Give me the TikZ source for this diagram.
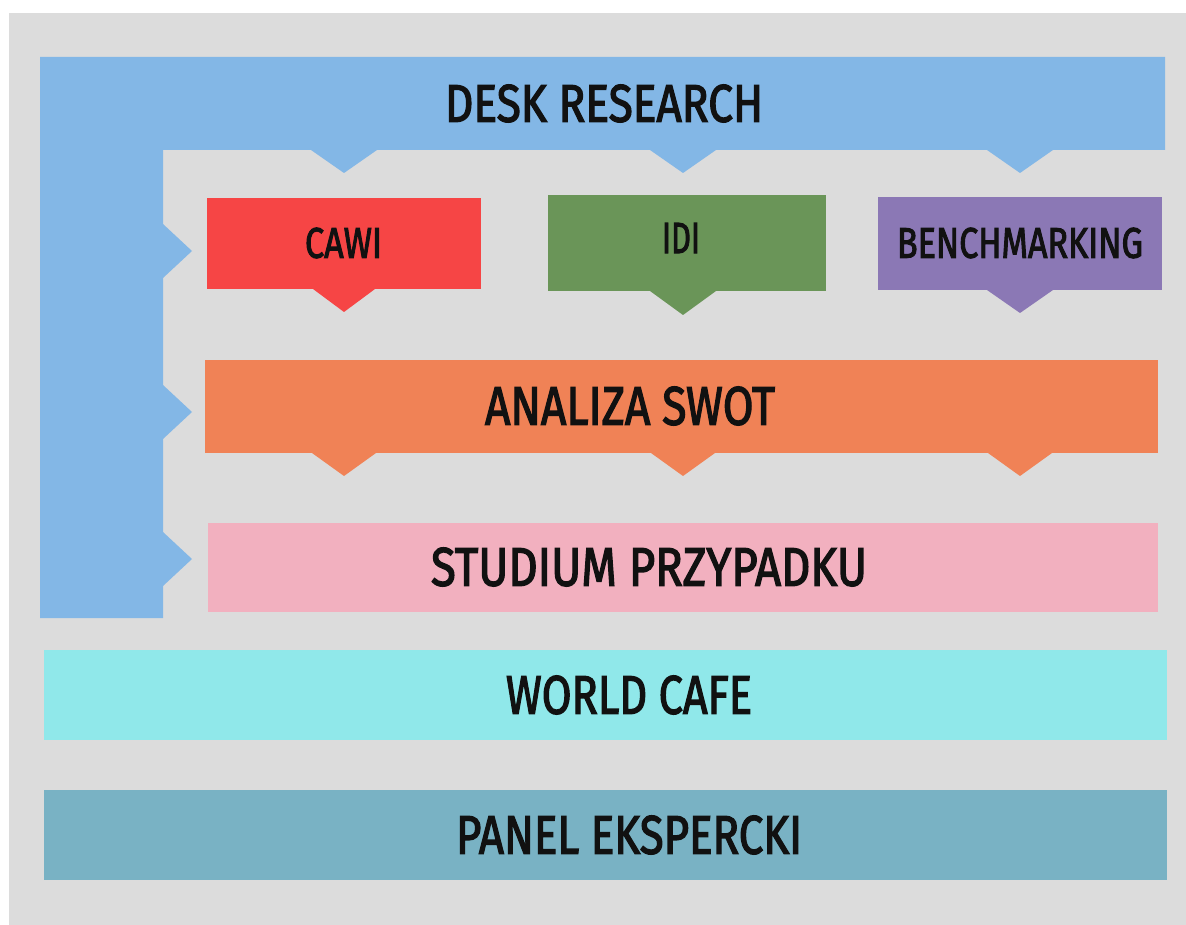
\documentclass[tikz,border=0pt]{standalone}
\usepackage{fontspec}
\newfontfamily\labelfont{Fira Sans}[FakeBold=2.6]
\usepackage{graphicx}
\definecolor{canvas}{HTML}{DCDCDC}
\definecolor{deskblue}{HTML}{83B7E6}
\definecolor{cawired}{HTML}{F64545}
\definecolor{idigreen}{HTML}{6A9558}
\definecolor{benchpurple}{HTML}{8B78B5}
\definecolor{swotorange}{HTML}{F08256}
\definecolor{studypink}{HTML}{F2B0BF}
\definecolor{cafecyan}{HTML}{90E8EA}
\definecolor{panelteal}{HTML}{79B2C4}
\definecolor{ink}{HTML}{111111}
% label text squeezed to a given width and cap height
\newcommand{\boxlabel}[3]{\resizebox{#1pt}{#2pt}{\labelfont #3}}
\begin{document}
\begin{tikzpicture}[x=1pt,y=-1pt,
  panel/.style={rectangle, inner sep=0pt, outer sep=0pt, draw=none},
  lbl/.style={inner sep=0pt, outer sep=0pt, text=ink, anchor=center}]
\useasboundingbox (0,0) rectangle (1186,925);
\fill[white] (0,0) rectangle (1186,925);
\fill[canvas] (9,13) rectangle (1186,925);

% desk research frame: top bar with three pointers down, side bar with three pointers right
\fill[deskblue] (40,57) -- (1165,57) -- (1165,150)
  -- (1053,150) -- (1020,173) -- (987,150)
  -- (716,150) -- (683,173) -- (650,150)
  -- (377,150) -- (344,173) -- (311,150)
  -- (163,150)
  -- (163,224) -- (192,251) -- (163,278)
  -- (163,385) -- (192,412) -- (163,439)
  -- (163,532) -- (192,559) -- (163,586)
  -- (163,618) -- (40,618) -- cycle;
\node[lbl] (desk) at (604,103.5) {\boxlabel{318}{37}{DESK RESEARCH}};

% three methods
\node[panel, fill=cawired, minimum width=274pt, minimum height=91pt] (cawi) at (344,243.5) {};
\fill[cawired] (313,289) -- (344,312) -- (375,289) -- cycle;
\node[lbl] (cawit) at (343.5,243) {\boxlabel{77}{30}{CAWI}};

\node[panel, fill=idigreen, minimum width=278pt, minimum height=96pt] (idi) at (687,243) {};
\fill[idigreen] (650,291) -- (683,315) -- (716,291) -- cycle;
\node[lbl] (idit) at (681,238) {\boxlabel{38}{30}{IDI}};

\node[panel, fill=benchpurple, minimum width=284pt, minimum height=93pt] (bench) at (1020,243.5) {};
\fill[benchpurple] (987,290) -- (1020,313) -- (1053,290) -- cycle;
\node[lbl] (bencht) at (1020,243) {\boxlabel{246}{30}{BENCHMARKING}};

% swot analysis
\node[panel, fill=swotorange, minimum width=953pt, minimum height=93pt] (swot) at (681.5,406.5) {};
\fill[swotorange] (312,453) -- (344,476) -- (376,453) -- cycle;
\fill[swotorange] (651,453) -- (683,476) -- (715,453) -- cycle;
\fill[swotorange] (988,453) -- (1020,476) -- (1052,453) -- cycle;
\node[lbl] (swott) at (630,406) {\boxlabel{290}{38}{ANALIZA SWOT}};

% case study
\node[panel, fill=studypink, minimum width=950pt, minimum height=89pt] (study) at (683,567.5) {};
\node[lbl] (studyt) at (649,567) {\boxlabel{436}{38}{STUDIUM PRZYPADKU}};

% world cafe and expert panel
\node[panel, fill=cafecyan, minimum width=1123pt, minimum height=90pt] (cafe) at (605.5,695) {};
\node[lbl] (cafet) at (629,695) {\boxlabel{246}{38}{WORLD CAFE}};

\node[panel, fill=panelteal, minimum width=1123pt, minimum height=90pt] (expert) at (605.5,835) {};
\node[lbl] (expertt) at (629,835) {\boxlabel{346}{38}{PANEL EKSPERCKI}};
\end{tikzpicture}
\end{document}
